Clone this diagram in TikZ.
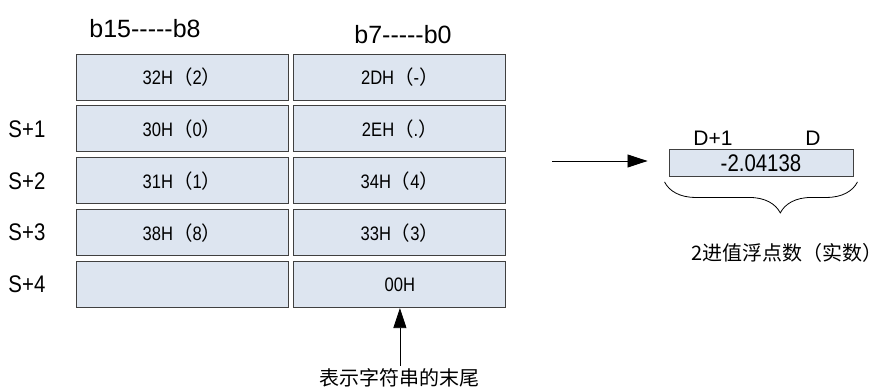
\documentclass[tikz,border=0pt]{standalone}
\usepackage{fontspec}
\setmainfont{Liberation Sans}
\newfontfamily\narrowfont{Liberation Sans}[FakeStretch=0.85]
\newfontfamily\cjkfont{Noto Sans CJK SC}
\usetikzlibrary{arrows.meta, positioning, calc, decorations.pathreplacing}
\definecolor{cCell}{RGB}{221,229,240}
\definecolor{cEdge}{RGB}{64,64,64}
\newcommand{\hexchar}[2]{#1{\cjkfont （}#2{\cjkfont ）}}
\newcommand{\bitdash}{-\kern0pt-\kern0pt-\kern0pt-\kern0pt-}

\begin{document}
\begin{tikzpicture}[x=1pt, y=-1pt,
  cell/.style={draw=cEdge, fill=cCell, line width=0.9pt, minimum width=212pt,
    minimum height=46pt, inner sep=0pt, font=\narrowfont\fontsize{19.5}{19.5}\selectfont},
  headlbl/.style={inner sep=0pt, font=\fontsize{25}{25}\selectfont},
  rowlbl/.style={inner sep=0pt, font=\narrowfont\fontsize{24}{24}\selectfont},
  dlbl/.style={inner sep=0pt, font=\fontsize{21}{21}\selectfont},
  valbox/.style={draw=cEdge, fill=cCell, line width=0.9pt, minimum width=184pt,
    minimum height=27pt, inner sep=0pt, font=\narrowfont\fontsize{24}{24}\selectfont},
  note/.style={inner sep=0pt, font=\cjkfont\fontsize{20}{20}\selectfont},
  arr/.style={-{Triangle[length=20pt,width=13pt]}, line width=0.8pt},
  brace/.style={decorate, line width=0.8pt,
    decoration={brace, mirror, amplitude=31pt, aspect=0.6}}]
  \useasboundingbox (0,0) rectangle (884,390);

  \node[cell] (l0) at (182,77) {\hexchar{32H}{2}};
  \node[cell, below=5pt of l0] (l1) {\hexchar{30H}{0}};
  \node[cell, below=5pt of l1] (l2) {\hexchar{31H}{1}};
  \node[cell, below=5pt of l2] (l3) {\hexchar{38H}{8}};
  \node[cell, below=5pt of l3] (l4) {};
  \node[cell, right=5pt of l0] (r0) {\hexchar{2DH}{-}};
  \node[cell, right=5pt of l1] (r1) {\hexchar{2EH}{.}};
  \node[cell, right=5pt of l2] (r2) {\hexchar{34H}{4}};
  \node[cell, right=5pt of l3] (r3) {\hexchar{33H}{3}};
  \node[cell, right=5pt of l4] (r4) {00H};

  \node[headlbl] (hhi) at (145,29) {b15\bitdash b8};
  \node[headlbl] (hlo) at (403,35) {b7\bitdash b0};
  \node[rowlbl, left=30pt of l1] (s1) {S+1};
  \node[rowlbl, left=30pt of l2] (s2) {S+2};
  \node[rowlbl, left=30pt of l3] (s3) {S+3};
  \node[rowlbl, left=30pt of l4] (s4) {S+4};

  \node[note] (endnote) at (r4.south |- 0,378) {表示字符串的末尾};
  \draw[arr, shorten <=3pt] (endnote.north) -- (r4.south);

  \node[valbox] (val) at (761,163) {-2.04138};
  \node[dlbl] (dhi) at (713,138) {D+1};
  \node[dlbl] (dlo) at (813,138) {D};
  \coordinate (src) at (552,161);
  \draw[arr, shorten >=21pt] (src) -- (src -| val.west);
  \draw[brace] ($(val.south west)+(-4,5)$) -- ($(val.south east)+(4,5)$);
  \node[note] (fnote) at (787,253) {2进值浮点数（实数）};
\end{tikzpicture}
\end{document}
